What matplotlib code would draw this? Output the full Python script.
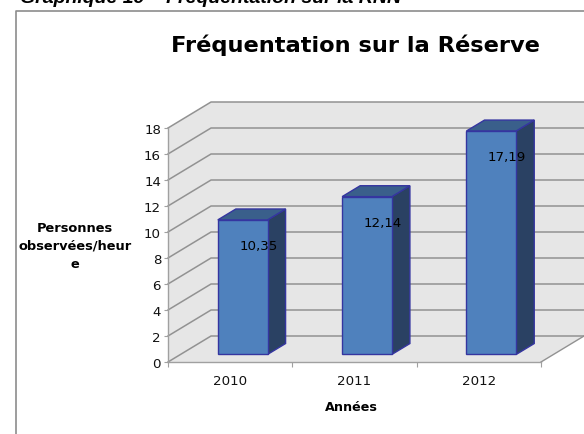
import matplotlib
matplotlib.use('Agg')
import matplotlib.pyplot as plt
from matplotlib.patches import Polygon

annees = ['2010', '2011', '2012']
valeurs = [10.35, 12.14, 17.19]
etiquettes = ['10,35', '12,14', '17,19']
graduations = [0, 2, 4, 6, 8, 10, 12, 14, 16, 18]

W, H = 584, 435
#oblique projection: depth 0 (front) -- 1 (back wall), in data units
DX = 0.346
DY = 2.0

def proj(x, y, d):
	return (x + DX*d, y + DY*d)

def poly(ax, pts, color, edge='none', lw=0, z=1):
	ax.add_patch(Polygon([proj(*p) for p in pts], closed=True, facecolor=color,
		edgecolor=edge, linewidth=lw, clip_on=False, zorder=z, joinstyle='miter'))

def bar3d(ax, x, v, z):
	edge = '#3535a0'
	w = 0.2
	d0, d1 = 0.29, 0.71
	x0, x1 = x-w, x+w
	#bars stand on the floor, so front face starts at depth d0 and value 0
	poly(ax, [(x1,0,d0),(x1,0,d1),(x1,v,d1),(x1,v,d0)], '#2a4163', edge, 1.0, z)
	poly(ax, [(x0,v,d0),(x1,v,d0),(x1,v,d1),(x0,v,d1)], '#3a5f8b', edge, 1.0, z)
	poly(ax, [(x0,0,d0),(x1,0,d0),(x1,v,d0),(x0,v,d0)], '#4f81bd', edge, 1.0, z+1)

fig = plt.figure(figsize=(W/100, H/100), dpi=100)
ax = fig.add_axes([168/W, 1-363/H, (541-168)/W, (363-129)/H])
ax.set_xlim(0, 3)
ax.set_ylim(0, 18)
ax.patch.set_visible(False)
for s in ['top', 'right']:
	ax.spines[s].set_visible(False)
for s in ['left', 'bottom']:
	ax.spines[s].set_color('#a0a0a0')
	ax.spines[s].set_linewidth(1.0)

#walls and floor
ymax = graduations[-1]
poly(ax, [(0,0,0),(3,0,0),(3,0,1),(0,0,1)], '#e6e6e6', z=0)
poly(ax, [(0,0,0),(0,0,1),(0,ymax,1),(0,ymax,0)], '#e6e6e6', z=0)
poly(ax, [(0,0,1),(3,0,1),(3,ymax,1),(0,ymax,1)], '#e6e6e6', z=0)
for g in graduations:
	xs, ys = zip(proj(0,g,0), proj(0,g,1), proj(3,g,1))
	ax.plot(xs, ys, color='#929292', lw=1.1, clip_on=False, zorder=1)
xs, ys = zip(proj(3,0,0), proj(3,0,1))
ax.plot(xs, ys, color='#929292', lw=1.0, clip_on=False, zorder=1)

for i, v in enumerate(valeurs):
	x = i + 0.5
	bar3d(ax, x, v, 3)
	fx, fy = proj(x, v, 0.29)
	ax.annotate(etiquettes[i], xy=(fx, fy), xytext=(15.7*0.72, -26*0.72), textcoords='offset points',
		ha='center', va='center', fontsize=9.6, color='black', zorder=6, annotation_clip=False)

ax.set_yticks(graduations)
ax.set_xticks([0, 1, 2, 3])
ax.set_xticklabels([])
ax.set_xticks([0.5, 1.5, 2.5], minor=True)
ax.set_xticklabels(annees, minor=True, fontsize=9.6, color='#111111')
ax.tick_params(axis='x', which='major', length=3.5, color='#a0a0a0', width=0.8)
ax.tick_params(axis='x', which='minor', length=0, pad=9)
ax.tick_params(axis='y', length=3, color='#a0a0a0', width=0.8, labelsize=9.6, labelcolor='#111111', pad=2)

ax.set_xlabel('Années', fontsize=9.2, fontweight='bold')
ax.xaxis.set_label_coords((351-168)/373, -(408-363)/234)
ax.xaxis.label.set_va('center')
ax.set_ylabel('Personnes\nobservées/heur\ne', rotation=0, fontsize=9.4, fontweight='bold',
	ha='center', va='center', linespacing=1.5)
ax.yaxis.set_label_coords((75-168)/373, (363-246)/234)

#chart frame and captions
fig.add_artist(plt.Line2D([16/W, 16/W, 1], [0, 1-11.5/H, 1-11.5/H], color='#8c8c8c', lw=1.2))
fig.text(355/W, 1-45/H, 'Fréquentation sur la Réserve', ha='center', va='center',
	fontsize=16.2, fontweight='bold', color='black')
#caption is cut by the top edge in the source too
fig.text(20/W, 1-3.3/H, 'Graphique 19 – Fréquentation sur la RNN', ha='left', va='baseline',
	fontsize=14, fontweight='bold', fontstyle='italic', color='black', family='Liberation Sans')

fig.savefig('out.png', dpi=100)
